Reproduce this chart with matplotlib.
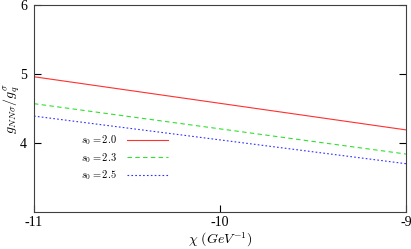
import numpy as np
import matplotlib
matplotlib.use("Agg")
import matplotlib.pyplot as plt

plt.rcParams["mathtext.fontset"] = "cm"
plt.rcParams["font.family"] = "serif"
plt.rcParams["font.serif"] = ["Liberation Serif", "DejaVu Serif"]

chi = [-11.0, -9.0]
g_s20 = [4.96, 4.19]
g_s23 = [4.57, 3.84]
g_s25 = [4.39, 3.70]
labels = [r"$s_0 = 2.0$", r"$s_0 = 2.3$", r"$s_0 = 2.5$"]

fig = plt.figure(figsize=(4.11, 2.49), dpi=100)
ax = fig.add_axes([34 / 411, 37 / 249, 372 / 411, 207 / 249])

ax.plot(chi, g_s20, "-", color="#ff3030", lw=0.8, label=labels[0])
ax.plot(chi, g_s23, color="#30e030", lw=0.8, dashes=(4, 3), label=labels[1])
ax.plot(chi, g_s25, color="#3030ff", lw=0.8, dashes=(1.5, 2), label=labels[2])

ax.set_xlim(-11, -9)
ax.set_ylim(3, 6)
ax.set_xticks([-11, -10, -9])
ax.set_xticklabels(["-11", "-10", "-9"])
ax.set_yticks([4, 5, 6])
ax.tick_params(direction="in", length=5, width=0.8, labelsize=10, pad=3,
               top=False, right=True)
ax.tick_params(axis="y", pad=5)
for s in ax.spines.values():
    s.set_linewidth(0.8)
    s.set_color("#404040")

ax.set_xlabel(r"$\chi\ (GeV^{-1})$", fontsize=10, labelpad=1)
ax.set_ylabel(r"$g_{NN\sigma}/g_q^\sigma$", fontsize=10)
ax.yaxis.set_label_coords(-0.032, 0.5)

ax.legend(loc="lower left", bbox_to_anchor=(0.1, 0.1), frameon=False, fontsize=7.5,
          markerfirst=False, handlelength=4.0, labelspacing=0.35, handletextpad=1.0)

fig.savefig("out.png", dpi=100)
